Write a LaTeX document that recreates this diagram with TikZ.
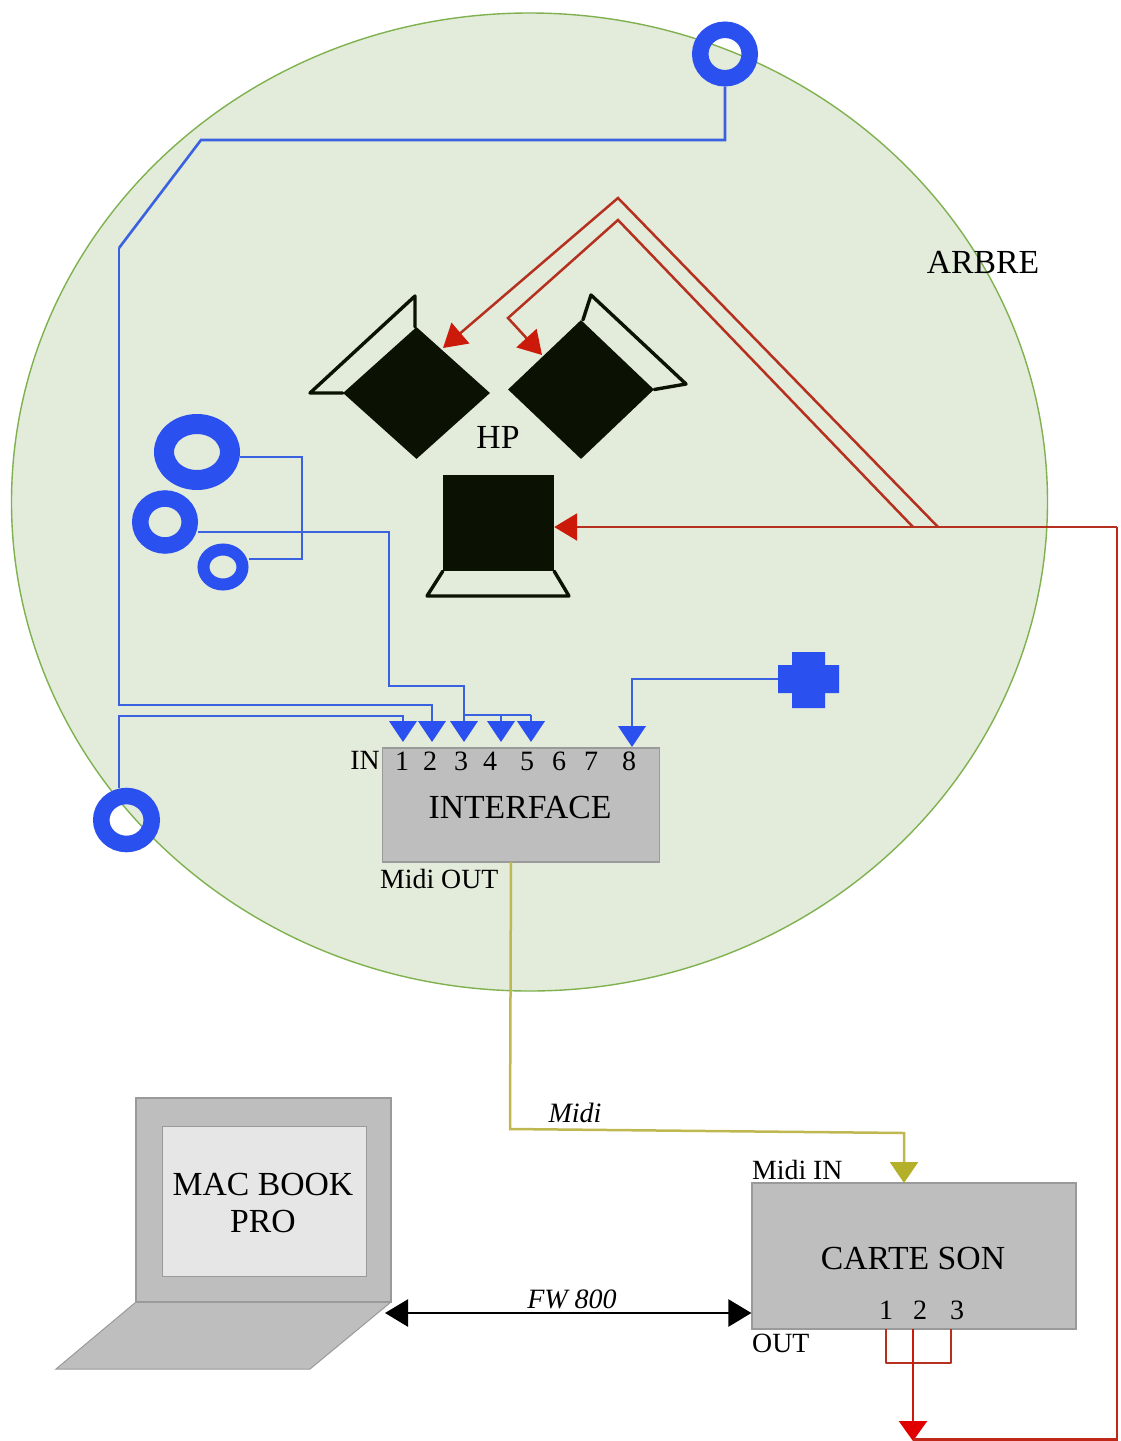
\documentclass[tikz,border=0pt]{standalone}
\usepackage{fontspec}
\setmainfont{Liberation Serif}
\usetikzlibrary{arrows.meta,shapes.geometric,calc}
\definecolor{treefill}{HTML}{E3EBDB}
\definecolor{treeline}{HTML}{7FB24F}
\definecolor{wireblue}{HTML}{3A62E0}
\definecolor{headblue}{HTML}{2A50F0}
\definecolor{wirered}{HTML}{B5301F}
\definecolor{headred}{HTML}{CC1A0A}
\definecolor{wireyel}{HTML}{BFB850}
\definecolor{headyel}{HTML}{B5B02A}
\definecolor{boxgrey}{HTML}{BEBEBE}
\definecolor{boxline}{HTML}{9A9A9A}
\definecolor{screengrey}{HTML}{E6E6E6}
\definecolor{spk}{HTML}{0C1203}
\tikzset{
  x=1pt,y=-1pt,
  big/.style={font=\fontsize{33.7}{37}\selectfont,inner sep=0pt,align=center},
  small/.style={font=\fontsize{27.8}{30}\selectfont,inner sep=0pt},
  digit/.style={font=\fontsize{28}{30}\selectfont,inner sep=0pt},
  ital/.style={font=\fontsize{28}{30}\selectfont\itshape,inner sep=0pt},
  greybox/.style={rectangle,draw=boxline,line width=1.2,fill=boxgrey,inner sep=0pt},
  ringnode/.style={ellipse,draw=headblue,inner sep=0pt},
  bluewire/.style={draw=wireblue,line width=2.6},
  redwire/.style={draw=wirered,line width=2.5},
  bluearrow/.style={bluewire,-{Triangle[length=21,width=27.5,fill=headblue,color=headblue]}},
  redarrow/.style={redwire,-{Triangle[length=23,width=27,fill=headred,color=headred]}},
  horn/.style={draw=spk,line width=3.4,line join=round,line cap=round,fill=none},
  spkbox/.style={fill=spk,inner sep=0pt}
}
\begin{document}
\begin{tikzpicture}
\useasboundingbox (0,0) rectangle (1121,1441);
\fill[white] (0,0) rectangle (1121,1441);
% tree area
\node[ellipse,draw=treeline,line width=1.4,fill=treefill,minimum width=1036,minimum height=978,inner sep=0pt] (tree) at (529.5,502) {};
\node[big] (arbre) at (983,262) {ARBRE};
% speakers
\node[diamond,spkbox,minimum width=147,minimum height=132,aspect=1.11] (hpL) at (416.5,393) {};
\node[diamond,spkbox,minimum width=146,minimum height=139,aspect=1.05] (hpR) at (581,389.5) {};
\node[rectangle,spkbox,minimum width=111,minimum height=96] (hpC) at (498.5,523) {};
\draw[horn] (hpL.west) -- (310,393) -- (415,296) -- (hpL.north -| 415,0);
\draw[horn] (hpR.north -| 583,0) -- (591,295) -- (686,384) -- (hpR.east);
\draw[horn] (hpC.south west) -- (427,596) -- (569,596) -- (hpC.south east);
\node[big] (hp) at (498,437) {HP};
% rings
\node[ringnode,line width=16.5,minimum width=49.5,minimum height=48.5] (ringTop) at (725,54) {};
\node[ringnode,line width=20,minimum width=66,minimum height=56] (ringA) at (197,452) {};
\node[ringnode,line width=16.5,minimum width=49.5,minimum height=47] (ringB) at (165,522) {};
\node[ringnode,line width=12,minimum width=39,minimum height=35] (ringC) at (223,567) {};
\node[ringnode,line width=16.5,minimum width=50.5,minimum height=48] (ringBot) at (126.5,820) {};
% plus
\fill[headblue] (792,652) -- (825,652) -- (825,665) -- (839,665) -- (839,693) -- (825,693) -- (825,708) -- (792,708) -- (792,693) -- (778,693) -- (778,665) -- (792,665) -- cycle;
\coordinate (plusW) at (778,679);
% interface
\node[greybox,minimum width=277,minimum height=114] (iface) at (521,805) {};
\node[big] (ifacet) at (520,807) {INTERFACE};
\node[small,anchor=east] (inlab) at (380,760) {IN};
\foreach \n/\x in {1/402,2/430,3/461,4/490,5/527,6/559,7/591,8/629}
  \node[digit] (d\n) at (\x,761) {\n};
\node[small,anchor=west] (midiout) at (380,879) {Midi OUT};
% input ports
\coordinate (p1) at (403,742);
\coordinate (p2) at (432,742);
\coordinate (p3) at (464,742);
\coordinate (p4) at (501,742);
\coordinate (p5) at (531,742);
\coordinate (p8) at (632,747);
% blue wires
\draw[bluearrow] (119,248) -- (119,705) -- (432,705) -- (p2);
\draw[bluewire] (ringTop.south) -- (725,140) -- (201,140) -- (119,248);
\draw[bluearrow] (ringBot.north -| 119,790) -- (119,716) -- (403,716) -- (p1);
\draw[bluewire] (ringA.east |- 0,457) -- (302,457) -- (302,559) -- (ringC.east |- 0,559);
\draw[bluearrow] (ringB.east |- 0,532) -- (389,532) -- (389,686) -- (464,686) -- (p3);
\draw[bluewire] (464,715) -- (531,715);
\draw[bluearrow] (501,715) -- (p4);
\draw[bluearrow] (531,715) -- (p5);
\draw[bluearrow] (plusW) -- (632,679) -- (p8);
% red wires
\coordinate (rj) at (1117,527);
\draw[redarrow] (rj) -- (hpC.east |- rj);
\coordinate (hpLin) at (443,348);
\coordinate (hpRin) at (542,355);
\draw[redarrow] (938,527) -- (618,198) -- (hpLin);
\draw[redarrow] (913,527) -- (618,220) -- (508,318) -- (hpRin);
% carte son
\node[greybox,minimum width=324,minimum height=146] (carte) at (914,1256) {};
\node[big] (cartet) at (913,1258) {CARTE SON};
\foreach \n/\x in {1/886,2/920,3/957}
  \node[digit] (c\n) at (\x,1310) {\n};
\node[small,anchor=west] (midiin) at (752,1170) {Midi IN};
\node[small,anchor=west] (outlab) at (752,1343) {OUT};
\coordinate (cb1) at (886,1329);
\coordinate (cb2) at (913,1329);
\coordinate (cb3) at (951,1329);
\coordinate (rout) at (913,1441);
\draw[draw=wirered,line width=2.5,line join=round] (cb1) -- (886,1363) -- (951,1363) -- (cb3);
\draw[draw=headred,line width=2.5,-{Triangle[length=20,width=28,fill=red!88!black,color=red!88!black]}] (cb2) -- (rout);
\draw[draw=wirered!85!red,line width=2.2] (rout |- 0,1439.5) -- (1117,1439.5) -- (rj);
% yellow
\coordinate (yin) at (904,1183);
\draw[draw=wireyel,line width=2.5,-{Triangle[length=21,width=28,fill=headyel,color=headyel]}] (511,862) -- (510,1129) -- (904,1133) -- (yin);
\node[ital] (midil) at (575,1113) {Midi};
% laptop
\fill[boxgrey,draw=boxline,line width=1] (136,1302) -- (391,1302) -- (310,1369) -- (56,1369) -- cycle;
\node[greybox,minimum width=255,minimum height=204] (lid) at (263.5,1200) {};
\node[rectangle,draw=boxline,line width=1,fill=screengrey,inner sep=0pt,minimum width=204,minimum height=150] (screen) at (264,1201) {};
\node[big] (mac) at (263,1203) {MAC BOOK\\PRO};
% firewire
\coordinate (lapr) at (385,1313);
\draw[draw=black,line width=2.4,{Triangle[length=23,width=27]}-{Triangle[length=23,width=27]}] (lapr) -- (carte.west |- lapr);
\node[ital] (fw) at (572,1299) {FW 800};
\end{tikzpicture}
\end{document}
